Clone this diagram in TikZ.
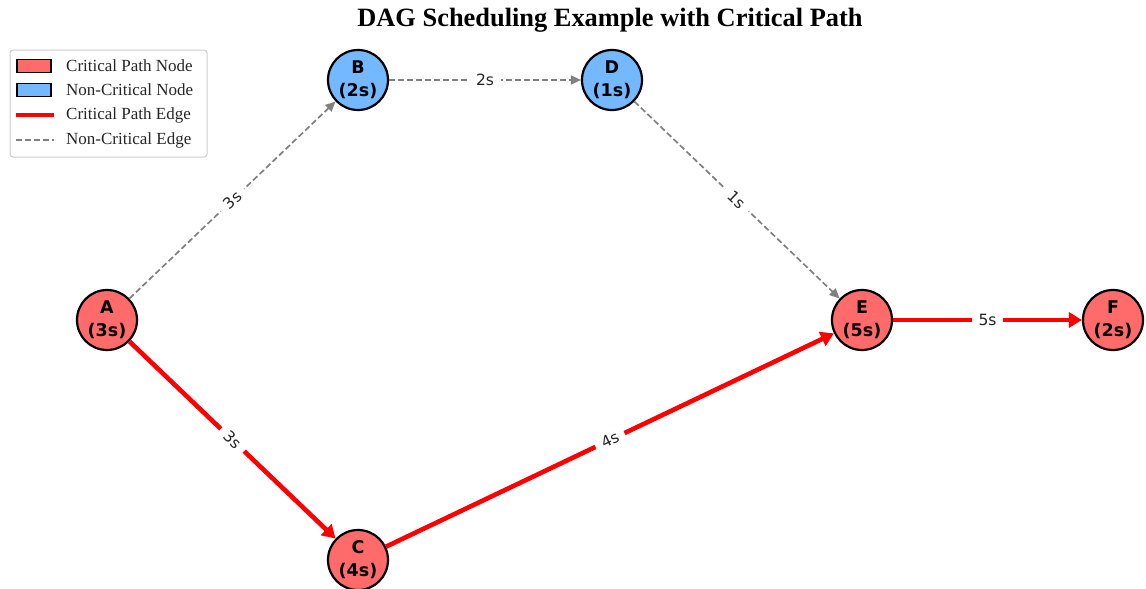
\documentclass[tikz,border=0pt]{standalone}
\usepackage{fontspec}
\setmainfont{Liberation Serif}
\newfontfamily\labelfont{DejaVu Sans}
\usetikzlibrary{arrows.meta}
\definecolor{critfill}{RGB}{255,107,107}
\definecolor{normfill}{RGB}{116,185,255}
\definecolor{edgegray}{RGB}{128,128,128}
\tikzset{
  task/.style={circle, draw=black, line width=2.2pt, minimum size=60pt, inner sep=0pt,
    align=center, font=\labelfont\bfseries\fontsize{17.5}{23}\selectfont},
  crit/.style={task, fill=critfill},
  noncrit/.style={task, fill=normfill},
  critedge/.style={draw=red, line width=4.6pt, -{Triangle[length=13pt,width=15pt]}},
  normedge/.style={draw=edgegray, line width=1.7pt, dash pattern=on 6pt off 3pt,
    -{Triangle[length=10pt,width=9pt]}},
  weight/.style={fill=white, inner xsep=7pt, inner ysep=3pt, sloped, text=black!85,
    font=\labelfont\fontsize{15.5}{17}\selectfont},
  legtext/.style={anchor=west, inner sep=0pt, text=black!85, font=\fontsize{17}{19}\selectfont},
  legpatch/.style={draw=black, line width=1.3pt, minimum width=34pt, minimum height=13pt, inner sep=0pt}
}
\begin{document}
\begin{tikzpicture}[x=1pt, y=-1pt]
\useasboundingbox (0,0) rectangle (1146,589);

% title
\node[font=\bfseries\fontsize{26.4}{31}\selectfont] (title) at (610,20) {DAG Scheduling Example with Critical Path};

% tasks
\node[crit]    (A) at (107,320) {A\\(3s)};
\node[noncrit] (B) at (358,80)  {B\\(2s)};
\node[crit]    (C) at (358,560) {C\\(4s)};
\node[noncrit] (D) at (612,80)  {D\\(1s)};
\node[crit]    (E) at (862,320) {E\\(5s)};
\node[crit]    (F) at (1113,320) {F\\(2s)};

% dependencies
\draw[normedge] (A) -- node[weight] {3s} (B);
\draw[normedge] (B) -- node[weight] {2s} (D);
\draw[normedge] (D) -- node[weight] {1s} (E);
\draw[critedge] (A) -- node[weight] {3s} (C);
\draw[critedge] (C) -- node[weight] {4s} (E);
\draw[critedge] (E) -- node[weight] {5s} (F);

% legend
\draw[draw=black!20, line width=1pt, rounded corners=3pt, fill=white] (10,50) rectangle (207,157);
\node[legpatch, fill=critfill] (lp1) at (34,66) {};
\node[legtext] (lt1) at (66,66) {Critical Path Node};
\node[legpatch, fill=normfill] (lp2) at (34,90) {};
\node[legtext] (lt2) at (66,90) {Non-Critical Node};
\coordinate (l3a) at (16,115);
\coordinate (l3b) at (54,115);
\draw[red, line width=4.6pt] (l3a) -- (l3b);
\node[legtext] (lt3) at (66,115) {Critical Path Edge};
\coordinate (l4a) at (16,140);
\coordinate (l4b) at (54,140);
\draw[edgegray, line width=1.7pt, dash pattern=on 6pt off 3pt] (l4a) -- (l4b);
\node[legtext] (lt4) at (66,140) {Non-Critical Edge};
\end{tikzpicture}
\end{document}
